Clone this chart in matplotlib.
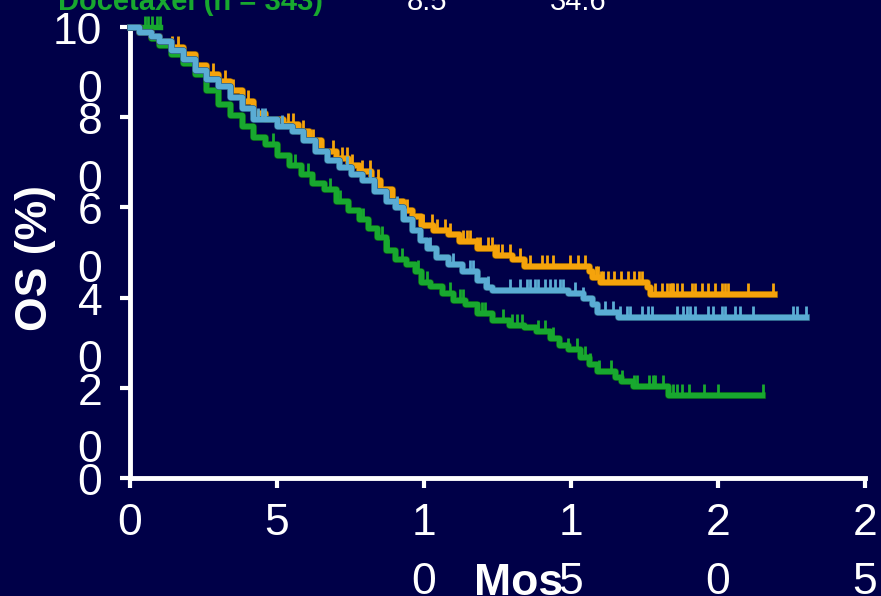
import numpy as np
import matplotlib
matplotlib.use('Agg')
import matplotlib.pyplot as plt
import matplotlib.patheffects as pe
from matplotlib.transforms import ScaledTranslation

plt.rcParams['font.family'] = ['Liberation Sans', 'DejaVu Sans']

# Kaplan-Meier steps: month of each drop and OS (%) after it
orange_t = [0.0, 0.3, 0.7, 1.0, 1.4, 1.8, 2.2, 2.6, 3.0, 3.4, 3.8, 4.2, 4.6, 5.2, 5.7,
            6.1, 6.5, 7.0, 7.4, 7.8, 8.2, 8.5, 8.9, 9.3, 9.6, 9.9, 10.3, 10.8, 11.2,
            11.8, 12.4, 13.0, 13.4, 15.6, 15.7, 16.0, 17.6, 17.7]
orange_s = [100, 99, 98, 97, 95.5, 94, 91.5, 89.5, 88, 86, 83.5, 81, 79.5, 78.5, 77,
            75, 72.5, 71, 69.5, 68, 66, 64, 61.5, 59.5, 58, 56, 55, 54, 52.5,
            51, 49.5, 48.5, 47, 45.8, 44.6, 43.5, 42.4, 40.8]
orange_end = 21.9
orange_cens = [1.43, 1.63, 2.82, 3.23, 3.50, 4.01, 5.37, 5.54, 5.88, 6.22, 6.90, 7.21,
               7.38, 7.55, 7.89, 8.16, 8.44, 8.95, 9.42, 9.97, 10.27, 10.44, 10.71,
               10.88, 11.33, 11.46, 11.56, 11.80, 11.90, 12.18, 12.31, 12.41, 12.52,
               12.65, 12.93, 13.27, 13.61, 14.01, 14.18, 14.39, 14.97, 15.24, 15.48,
               15.85, 15.92, 16.02, 16.09, 16.26, 16.46, 16.70, 16.94, 17.14, 17.31,
               17.41, 17.86, 18.10, 18.27, 18.37, 18.44, 18.47, 18.61, 18.78, 19.12,
               19.22, 19.46, 19.66, 19.90, 20.14, 20.24, 20.34, 21.02, 21.87]

blue_t = [0.0, 0.3, 0.7, 1.0, 1.4, 1.8, 2.2, 2.6, 3.0, 3.4, 3.8, 4.2, 5.0, 5.5, 5.9,
          6.3, 6.7, 7.1, 7.5, 7.9, 8.3, 8.7, 9.0, 9.3, 9.6, 9.86, 10.1, 10.4, 10.8,
          11.3, 11.8, 12.1, 12.3, 14.9, 15.4, 15.7, 15.9, 16.6]
blue_s = [100, 99, 98, 97, 95, 93, 90.5, 88.5, 87, 84.5, 82, 79.5, 78, 77, 75,
          72.5, 70.5, 69, 67.5, 66, 63.6, 61.5, 60, 57.5, 55, 52.7, 50.9, 49, 47.5,
          46, 44, 42.4, 41.7, 41.0, 40.0, 38.6, 36.8, 35.7]
blue_end = 23.0
blue_cens = [1.80, 4.35, 4.49, 4.59, 5.17, 7.38, 8.16, 9.08, 9.35, 10.20, 10.99, 11.56,
             11.67, 12.18, 12.93, 13.27, 13.50, 13.61, 13.78, 13.88, 14.12, 14.29,
             14.46, 14.63, 14.73, 15.14, 15.41, 16.16, 16.43, 16.67, 16.90, 17.01,
             17.41, 17.62, 17.76, 18.61, 18.81, 18.95, 19.05, 19.22, 19.66, 19.83,
             20.14, 20.24, 20.58, 20.75, 21.19, 22.55, 22.69, 23.0]

green_t = [0.0, 0.3, 0.7, 1.0, 1.4, 1.8, 2.2, 2.6, 3.0, 3.4, 3.8, 4.2, 4.6, 5.0, 5.4,
           5.8, 6.2, 6.6, 7.0, 7.4, 7.8, 8.1, 8.4, 8.7, 9.0, 9.4, 9.7, 9.9, 10.2,
           10.6, 11.0, 11.4, 11.8, 12.3, 12.9, 13.4, 13.8, 14.3, 14.6, 14.9, 15.3,
           15.6, 15.9, 16.5, 16.7, 17.1, 18.3]
green_s = [100, 99, 97.5, 96, 94, 92, 89.5, 86, 83, 80.5, 78, 75.5, 74, 71.6, 69.5,
           67.5, 65.5, 64, 61.5, 59.5, 57.5, 55.5, 53.5, 50.5, 48.5, 47.5, 46, 43.5, 42.5,
           41, 39.5, 38.5, 36.5, 35, 34, 33.5, 32.5, 31, 29.5, 28.5, 26.8,
           25.2, 23.7, 22.5, 21.4, 20.3, 18.3]
green_end = 21.5
green_top_cens = [0.51, 0.61, 0.75, 0.92, 1.02]
green_cens = [4.86, 5.61, 6.05, 6.22, 6.80, 7.14, 7.93, 8.57, 8.78, 9.25, 9.80, 10.10,
              10.88, 11.22, 11.33, 11.84, 11.97, 12.07, 12.69, 12.99, 13.16, 13.33,
              13.88, 14.12, 14.39, 14.90, 15.20, 15.48, 15.65, 15.95, 16.36, 16.73,
              17.14, 17.24, 17.65, 17.79, 17.86, 18.13, 18.47, 18.61, 18.78, 19.01,
              19.52, 19.99, 21.53]

x_ticks = [0, 5, 10, 15, 20, 25]
x_labels = ['0', '5', '1\n0', '1\n5', '2\n0', '2\n5']
y_ticks = [0, 20, 40, 60, 80, 100]
y_labels = ['0', '2\n0', '4\n0', '6\n0', '8\n0', '10\n0']

bg = '#000048'
tick_marker = [(0, 0), (0, 1)]


def value_at(t_arr, s_arr, times):
    idx = np.searchsorted(t_arr, times, side='right') - 1
    return np.asarray(s_arr)[idx]


def km_curve(ax, t, s, end, cens, color, edge):
    effects = [pe.Stroke(linewidth=4.9, foreground=edge), pe.Normal()]
    ax.step(list(t) + [end], list(s) + [s[-1]], where='post', color=color, lw=3.9,
            clip_on=False, path_effects=effects, zorder=3)
    ax.plot(cens, value_at(t, s, cens), ls='none', marker=tick_marker, ms=16,
            mew=2, color=color, clip_on=False, zorder=3)


fig = plt.figure(figsize=(8.81, 5.96), dpi=100, facecolor=bg)
ax = fig.add_axes([130 / 881, 1 - 478 / 596, 735 / 881, 451 / 596], facecolor=bg)

# green arm first so the others sit on top of it
km_curve(ax, green_t, green_s, green_end, green_cens, '#18A82F', '#0b5a1a')
ax.plot([0] + green_top_cens, [100] * (len(green_top_cens) + 1), color='#18A82F',
        lw=3.9, clip_on=False, zorder=2)
ax.plot(green_top_cens, [100] * len(green_top_cens), ls='none', marker=tick_marker,
        ms=16, mew=2, color='#18A82F', clip_on=False, zorder=2)
km_curve(ax, orange_t, orange_s, orange_end, orange_cens, '#F5A30B', '#8a5a06')
km_curve(ax, blue_t, blue_s, blue_end, blue_cens, '#5AACD4', '#2b5f82')

ax.set_xlim(0, 25)
ax.set_ylim(0, 100)
for side in ['top', 'right']:
    ax.spines[side].set_visible(False)
for side in ['left', 'bottom']:
    ax.spines[side].set_color('white')
    ax.spines[side].set_linewidth(3.5)

ax.set_xticks(x_ticks)
ax.set_xticklabels(x_labels)
ax.set_yticks(y_ticks)
ax.set_yticklabels(y_labels)
ax.tick_params(colors='white', width=3, length=7, labelsize=32)
ax.tick_params(axis='x', pad=11)
ax.tick_params(axis='y', pad=13)

# wrapped labels: first line sits on the tick, the rest hangs below
for lab in ax.get_xticklabels():
    lab.set_va('top')
    lab.set_linespacing(1.55)
y_shift = ScaledTranslation(0, 0.15, fig.dpi_scale_trans)
for lab in ax.get_yticklabels():
    lab.set_va('top')
    lab.set_linespacing(1.52)
    lab.set_transform(lab.get_transform() + y_shift)

ax.set_xlabel('Mos', color='white', fontsize=32, fontweight='bold', va='baseline')
ax.xaxis.set_label_coords(0.528, -0.26)
ax.set_ylabel('OS (%)', color='white', fontsize=32, fontweight='bold', va='center')
ax.yaxis.set_label_coords(-0.128, 0.487)

# last row of the arm legend at the top edge
fig.text(58 / 881, 1 - 10 / 596, 'Docetaxel (n = 343)', color='#18A82F',
         fontsize=21, fontweight='bold', va='baseline', ha='left')
fig.text(427 / 881, 1 - 10 / 596, '8.5', color='white', fontsize=21,
         va='baseline', ha='center')
fig.text(578 / 881, 1 - 10 / 596, '34.6', color='white', fontsize=21,
         va='baseline', ha='center')

fig.savefig('out.png', dpi=100, facecolor=bg)
